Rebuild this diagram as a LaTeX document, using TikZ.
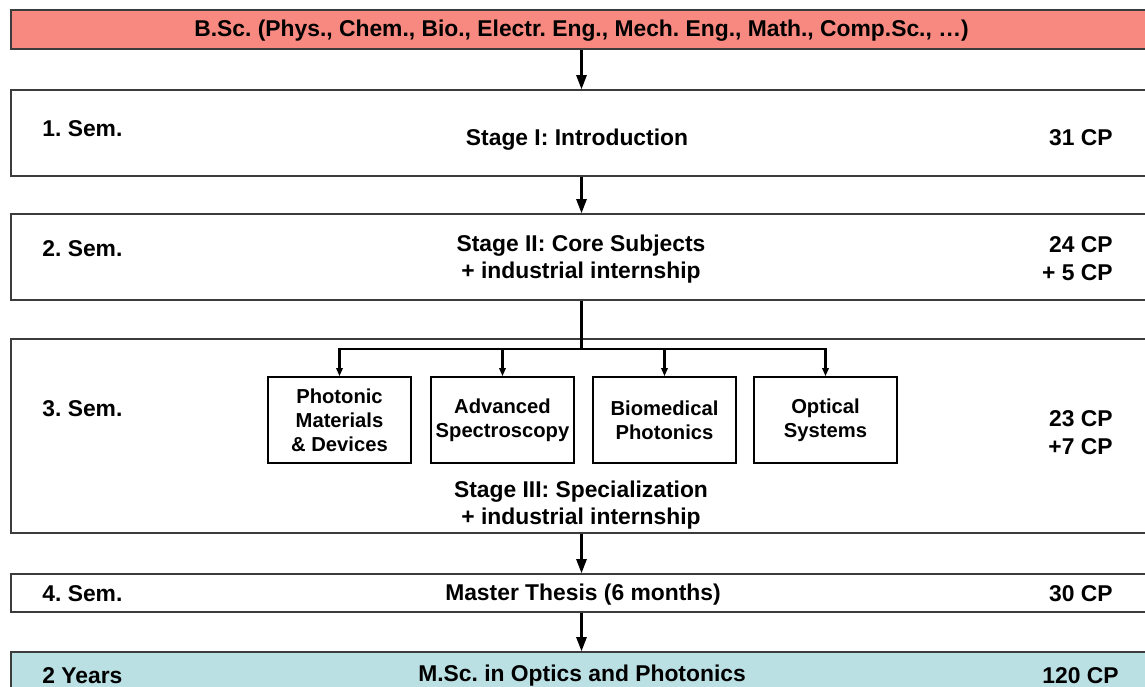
\documentclass[tikz,border=0pt]{standalone}
\usepackage{fontspec}
\setmainfont{Liberation Sans}
\frenchspacing
\usetikzlibrary{arrows.meta,positioning,calc}
\definecolor{BscSalmon}{RGB}{247, 137, 128}
\definecolor{MscCyan}{RGB}{186, 224, 228}
\definecolor{FrameGray}{RGB}{60, 60, 60}

\tikzset{
  band/.style={draw=FrameGray, line width=0.45pt, minimum width=11.41cm, inner sep=0pt},
  subject/.style={draw=black, line width=0.45pt, minimum width=1.43cm, minimum height=0.86cm,
    inner sep=0pt, align=center, font=\fontsize{5.75}{6.8}\selectfont\bfseries},
  semlabel/.style={anchor=west, font=\fontsize{6.5}{7.9}\selectfont\bfseries},
  cplabel/.style={anchor=east, align=right, font=\fontsize{6.5}{7.9}\selectfont\bfseries},
  stagetext/.style={align=center, font=\fontsize{6.5}{7.9}\selectfont\bfseries},
  flow/.style={line width=0.6pt, -{Triangle[length=4pt, width=2.9pt]}},
  branch/.style={line width=0.6pt, -{Triangle[length=2.3pt, width=1.8pt]}}
}

\begin{document}
\begin{tikzpicture}
  \useasboundingbox (0,0) rectangle (11.45,-6.87);
  % Bands from entry to degree
  \node[band, fill=BscSalmon, minimum height=0.39cm] (bsc) at (5.815,-0.295) {};
  \node[band, minimum height=0.86cm] (sem1) at (5.815,-1.33) {};
  \node[band, minimum height=0.86cm] (sem2) at (5.815,-2.57) {};
  \node[band, minimum height=1.94cm] (sem3) at (5.815,-4.36) {};
  \node[band, minimum height=0.38cm] (sem4) at (5.815,-5.93) {};
  \node[band, fill=MscCyan, minimum height=0.44cm] (msc) at (5.815,-6.74) {};
  % Texts in the bands
  \node[stagetext] (bsctext) at (5.815,-0.31) {B.Sc. (Phys., Chem., Bio., Electr. Eng., Mech. Eng., Math., Comp.Sc., \dots)};
  \node[semlabel] (lab1) at (0.30,-1.29) {1. Sem.};
  \node[stagetext] (stage1) at (5.77,-1.40) {Stage I: Introduction};
  \node[cplabel] (cp1) at (11.25,-1.38) {31 CP};
  \node[semlabel] (lab2) at (0.30,-2.49) {2. Sem.};
  \node[stagetext] (stage2) at (5.81,-2.59) {Stage II: Core Subjects\\+ industrial internship};
  \node[cplabel] (cp2) at (11.25,-2.59) {24 CP\\+ 5 CP};
  \node[semlabel] (lab3) at (0.30,-4.09) {3. Sem.};
  \node[stagetext] (stage3) at (5.81,-5.05) {Stage III: Specialization\\+ industrial internship};
  \node[cplabel] (cp3) at (11.25,-4.33) {23 CP\\+7 CP};
  \node[semlabel] (lab4) at (0.30,-5.94) {4. Sem.};
  \node[stagetext] (stage4) at (5.83,-5.95) {Master Thesis (6 months)};
  \node[cplabel] (cp4) at (11.25,-5.94) {30 CP};
  \node[semlabel] (lab5) at (0.30,-6.76) {2 Years};
  \node[stagetext] (degree) at (5.82,-6.76) {M.Sc. in Optics and Photonics};
  \node[cplabel] (cp5) at (11.31,-6.76) {120 CP};
  % Specialization subjects
  \node[subject] (spA) at (3.395,-4.20) {Photonic\\Materials\\\& Devices};
  \node[subject] (spB) at (5.025,-4.20) {Advanced\\Spectroscopy};
  \node[subject] (spC) at (6.645,-4.20) {Biomedical\\Photonics};
  \node[subject] (spD) at (8.255,-4.20) {Optical\\Systems};
  % Connectors
  \draw[flow] (bsc) -- (sem1);
  \draw[flow] (sem1) -- (sem2);
  \coordinate (fork) at (5.815,-3.49);
  \draw[line width=0.6pt] (sem2.south) -- (fork);
  \foreach \sp in {spA,spB,spC,spD}
    \draw[branch] (fork) -| (\sp.north);
  \draw[flow] (sem3) -- (sem4);
  \draw[flow] (sem4) -- (msc);
\end{tikzpicture}
\end{document}
